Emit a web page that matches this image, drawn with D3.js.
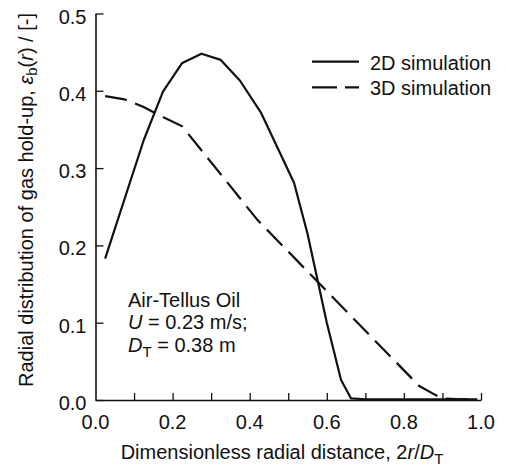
<!DOCTYPE html>
<html>
<head>
<meta charset="utf-8">
<script src="https://cdn.jsdelivr.net/npm/d3@7"></script>
<style>
  body { margin: 0; background: #fff; }
  svg text { font-family: "Liberation Sans", Arial, Helvetica, sans-serif; fill: #111; }
</style>
</head>
<body>
<div id="chart"></div>
<script>
// radial position 2r/D_T
const x2D = [0.025, 0.125, 0.175, 0.225, 0.275, 0.325, 0.375, 0.43, 0.515, 0.55, 0.60, 0.637, 0.663, 0.70, 0.80, 0.90, 0.99];
const y2D = [0.183, 0.336, 0.399, 0.436, 0.448, 0.440, 0.413, 0.371, 0.281, 0.215, 0.100, 0.026, 0.002, 0.001, 0.001, 0.001, 0.001];

const x3D = [0.025, 0.075, 0.125, 0.175, 0.225, 0.42, 0.58, 0.84, 0.88, 0.90, 0.95, 0.99];
const y3D = [0.393, 0.389, 0.379, 0.366, 0.354, 0.233, 0.151, 0.018, 0.007, 0.002, 0.001, 0.001];

const xTicks = [0.1, 0.2, 0.3, 0.4, 0.5, 0.6, 0.7, 0.8, 0.9, 1.0];
const xLabels = [0.0, 0.2, 0.4, 0.6, 0.8, 1.0];
const yTicks = [0.0, 0.1, 0.2, 0.3, 0.4, 0.5];

const width = 508, height = 470;
const margin = { top: 13.5, right: 27, bottom: 70, left: 95.5 };

const svg = d3.select("#chart").append("svg")
    .attr("width", width).attr("height", height);

const x = d3.scaleLinear().domain([0, 1]).range([margin.left, width - margin.right]);
const y = d3.scaleLinear().domain([0, 0.5]).range([height - margin.bottom, margin.top]);

// axes: ticks point inward
const xAxis = svg.append("g").attr("transform", `translate(0,${y(0)})`)
    .call(d3.axisTop(x).tickValues(xTicks).tickSize(7).tickFormat("").tickSizeOuter(0));
const yAxis = svg.append("g").attr("transform", `translate(${x(0)},0)`)
    .call(d3.axisRight(y).tickValues(yTicks).tickSize(8).tickFormat("").tickSizeOuter(0));
[xAxis, yAxis].forEach(a => {
    a.select(".domain").attr("stroke", "#111").attr("stroke-width", 1.6);
    a.selectAll(".tick line").attr("stroke", "#111").attr("stroke-width", 1.3);
});

svg.append("g").selectAll("text").data(xLabels).enter().append("text")
    .attr("x", d => x(d)).attr("y", y(0) + 29)
    .attr("text-anchor", "middle").style("font-size", "20px")
    .text(d => d.toFixed(1));

svg.append("g").selectAll("text").data(yTicks).enter().append("text")
    .attr("x", x(0) - 9).attr("y", d => y(d) + 10)
    .attr("text-anchor", "end").style("font-size", "20px")
    .text(d => d.toFixed(1));

const line = d3.line().x(d => x(d[0])).y(d => y(d[1]));

svg.append("path")
    .attr("d", line(d3.zip(x2D, y2D)))
    .attr("fill", "none").attr("stroke", "#111").attr("stroke-width", 2.2)
    .attr("stroke-linejoin", "round");

svg.append("path")
    .attr("d", line(d3.zip(x3D, y3D)))
    .attr("fill", "none").attr("stroke", "#111").attr("stroke-width", 2.2)
    .attr("stroke-dasharray", "22,9");

// legend
const legend = [["2D simulation", null, 61.7], ["3D simulation", "25,8", 87.3]];
legend.forEach(([name, dash, ly]) => {
    svg.append("line").attr("x1", 312).attr("x2", 359).attr("y1", ly).attr("y2", ly)
        .attr("stroke", "#111").attr("stroke-width", 2.2)
        .attr("stroke-dasharray", dash);
    svg.append("text").attr("x", 370).attr("y", ly + 7.8)
        .style("font-size", "20px").text(name);
});

// annotation
const note = svg.append("text").style("font-size", "20px");
note.append("tspan").attr("x", 128).attr("y", 306.7).text("Air-Tellus Oil");
const l2 = note.append("tspan").attr("x", 128).attr("y", 329);
l2.append("tspan").style("font-style", "italic").text("U");
l2.append("tspan").text(" = 0.23 m/s;");
const l3 = svg.append("text").style("font-size", "20px").attr("x", 128).attr("y", 351.7);
l3.append("tspan").style("font-style", "italic").text("D");
l3.append("tspan").attr("dy", 5).style("font-size", "15px").text("T");
l3.append("tspan").attr("dy", -5).text(" = 0.38 m");

// x title
const xt = svg.append("text").attr("x", 282).attr("y", 459)
    .attr("text-anchor", "middle").style("font-size", "20px");
xt.append("tspan").text("Dimensionless radial distance, 2");
xt.append("tspan").style("font-style", "italic").text("r");
xt.append("tspan").text("/");
xt.append("tspan").style("font-style", "italic").text("D");
xt.append("tspan").attr("dy", 5).style("font-size", "15px").text("T");

// y title
const yt = svg.append("text")
    .attr("transform", `translate(33,200) rotate(-90)`)
    .attr("text-anchor", "middle").style("font-size", "20px");
yt.append("tspan").text("Radial distribution of gas hold-up, ");
yt.append("tspan").style("font-style", "italic").text("\u03b5");
yt.append("tspan").attr("dy", 4).style("font-size", "15px").text("b");
yt.append("tspan").attr("dy", -4).text("(");
yt.append("tspan").style("font-style", "italic").text("r");
yt.append("tspan").text(") / [-]");
</script>
</body>
</html>
